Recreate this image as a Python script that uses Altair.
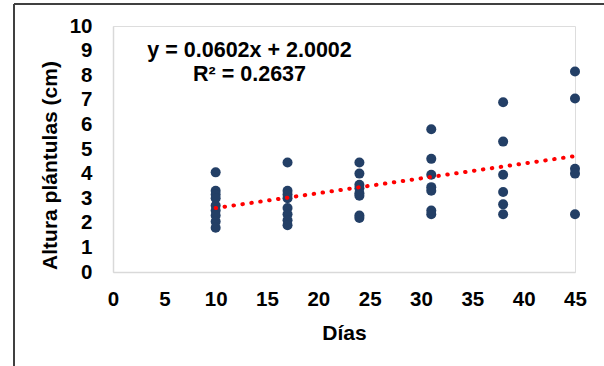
import altair as alt
import pandas as pd

# Data
days = ([10] * 9) + ([17] * 8) + ([24] * 8) + ([31] * 7) + ([38] * 6) + ([45] * 5)
heights = [
    4.05, 3.3, 3.15, 3.0, 2.7, 2.5, 2.3, 2.05, 1.8,
    4.45, 3.3, 3.15, 3.0, 2.6, 2.35, 2.1, 1.9,
    4.45, 4.0, 3.55, 3.4, 3.2, 3.1, 2.3, 2.2,
    5.8, 4.6, 3.95, 3.45, 3.3, 2.5, 2.35,
    6.9, 5.3, 3.95, 3.25, 2.75, 2.35,
    8.15, 7.05, 4.2, 4.0, 2.35,
]
trend_x = [10, 45]
trend_y = [2.60, 4.71]
eq_lines = ["y = 0.0602x + 2.0002", "R² = 0.2637"]
eq_x = [13.3, 13.3]
eq_y = [9.0, 8.0]
x_ticks = [0, 5, 10, 15, 20, 25, 30, 35, 40, 45]
y_ticks = [0, 1, 2, 3, 4, 5, 6, 7, 8, 9, 10]

pts = pd.DataFrame({"d": days, "h": heights})
trend = pd.DataFrame({"d": trend_x, "h": trend_y})
eq = pd.DataFrame({"t": eq_lines, "d": eq_x, "h": eq_y})

FONT = "Liberation Sans"

xs = alt.Scale(domain=[0, 45], nice=False, zero=False)
ys = alt.Scale(domain=[0, 10], nice=False)

x_axis = alt.Axis(
    title="Días", values=x_ticks, grid=False, ticks=False,
    domainColor="#d9d9d9", domainWidth=1.5, labelFont=FONT, labelFontSize=20.5,
    labelFontWeight="bold", labelColor="#000000", labelPadding=17,
    titleFont=FONT, titleFontSize=21, titleFontWeight="bold", titleColor="#000000",
    titlePadding=13, labelFlush=False, labelOverlap=False,
)
y_axis = alt.Axis(
    title="Altura plántulas (cm)", values=y_ticks, grid=False, ticks=False,
    domainColor="#d9d9d9", domainWidth=1.5, labelFont=FONT, labelFontSize=20.5,
    labelFontWeight="bold", labelColor="#000000", labelPadding=21,
    titleFont=FONT, titleFontSize=21, titleFontWeight="bold", titleColor="#000000",
    titleX=-63, titleY=139, titleBaseline="middle", titleAlign="center", titleAngle=-90,
    labelFlush=False, labelOverlap=False,
)

X = alt.X("d:Q", scale=xs, axis=x_axis)
Y = alt.Y("h:Q", scale=ys, axis=y_axis)

points = alt.Chart(pts).mark_circle(size=100, color="#233f66", opacity=1).encode(x=X, y=Y)

line = alt.Chart(trend).mark_line(
    color="#ff0000", strokeWidth=4, strokeDash=[0.5, 8.5], strokeCap="round"
).encode(x=X, y=Y)

text = alt.Chart(eq).mark_text(
    font=FONT, fontSize=21.5, fontWeight="bold", color="#000000", align="center", baseline="middle"
).encode(x=X, y=Y, text="t:N")

frame_left = alt.Chart(pts).mark_rule(color="#404040", strokeWidth=1.5).encode(
    x=alt.value(-99), y=alt.value(-22), y2=alt.value(345)
)
frame_top = alt.Chart(pts).mark_rule(color="#404040", strokeWidth=1.5).encode(
    x=alt.value(-99), x2=alt.value(495), y=alt.value(-22)
)

chart = alt.layer(points, line, text, frame_left, frame_top).properties(
    width=462, height=246,
    autosize=alt.AutoSizeParams(type="none"),
    padding={"left": 113, "top": 26, "right": 29, "bottom": 94},
).configure_view(stroke=None).configure(background="#ffffff")

chart.save("out.html", embed_options={"renderer": "svg", "actions": False})
